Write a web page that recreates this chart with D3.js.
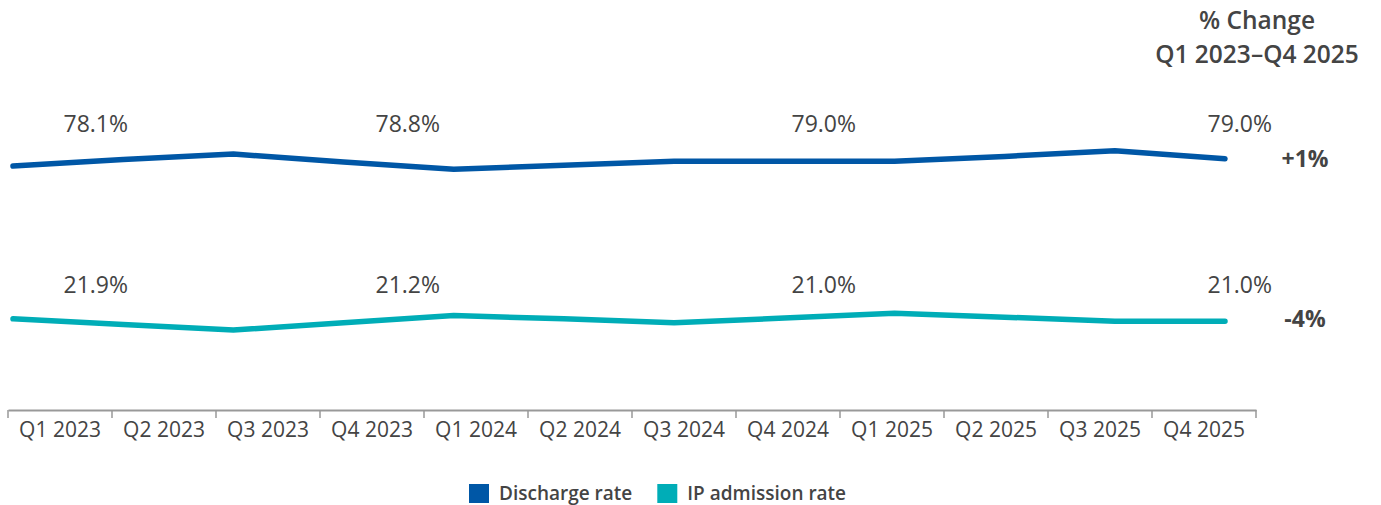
<!DOCTYPE html>
<html>
<head>
<meta charset="utf-8">
<script src="https://cdn.jsdelivr.net/npm/d3@7"></script>
<style>
  body { margin: 0; background: #fff; }
  svg text { font-family: "Open Sans", sans-serif; fill: #444; }
</style>
</head>
<body>
<svg id="chart" width="1381" height="505"></svg>
<script>
var quarters = ["Q1 2023","Q2 2023","Q3 2023","Q4 2023","Q1 2024","Q2 2024","Q3 2024","Q4 2024","Q1 2025","Q2 2025","Q3 2025","Q4 2025"];
var dischargeRate = [78.1, 78.9, 79.6, 78.6, 77.7, 78.2, 78.7, 78.7, 78.7, 79.3, 80.0, 79.0];
var admissionRate = [21.9, 21.2, 20.5, 21.4, 22.3, 21.9, 21.4, 22.0, 22.6, 22.1, 21.6, 21.6];
var labelQuarters = ["Q1 2023","Q4 2023","Q4 2024","Q4 2025"];
var dischargeLabels = ["78.1%","78.8%","79.0%","79.0%"];
var admissionLabels = ["21.9%","21.2%","21.0%","21.0%"];
var changeLabels = ["+1%","-4%"];
var seriesNames = ["Discharge rate","IP admission rate"];
var seriesColors = ["#0057a6","#00adb7"];

var svg = d3.select("#chart");

// axis bands and line positions
var xBand = d3.scaleBand().domain(quarters).range([8, 1256]).padding(0);
var xLine = d3.scalePoint().domain(quarters).range([13, 1225]);

// each series sits in its own strip
var yDis = d3.scaleLinear().domain([76, 81]).range([182.8, 142.8]);
var yAdm = d3.scaleLinear().domain([20, 25]).range([334, 294]);

var series = [
  {name: seriesNames[0], values: dischargeRate, y: yDis, color: seriesColors[0], labels: dischargeLabels, labelY: 132, change: changeLabels[0], changeY: 167},
  {name: seriesNames[1], values: admissionRate, y: yAdm, color: seriesColors[1], labels: admissionLabels, labelY: 293, change: changeLabels[1], changeY: 327}
];

series.forEach(function(s){
  var line = d3.line()
    .x(function(d, i){ return xLine(quarters[i]); })
    .y(function(d){ return s.y(d); });

  svg.append("path")
    .datum(s.values)
    .attr("d", line)
    .attr("fill", "none")
    .attr("stroke", s.color)
    .attr("stroke-width", 5.5)
    .attr("stroke-linecap", "round")
    .attr("stroke-linejoin", "round");

  svg.selectAll(null)
    .data(s.labels)
    .enter().append("text")
    .attr("x", function(d, i){ return xBand(labelQuarters[i]) + xBand.bandwidth() + 16; })
    .attr("y", s.labelY)
    .attr("text-anchor", "end")
    .style("font-size", "23px")
    .text(function(d){ return d; });

  svg.append("text")
    .attr("x", 1305)
    .attr("y", s.changeY)
    .attr("text-anchor", "middle")
    .style("font-size", "23px")
    .style("font-weight", "700")
    .text(s.change);
});

// x axis
var xAxis = d3.axisBottom(xBand).tickSize(0).tickPadding(0);
var gx = svg.append("g").attr("transform", "translate(0,410)").call(xAxis);
gx.select(".domain").attr("stroke", "#999").attr("stroke-width", 2);
gx.selectAll(".tick text")
  .attr("y", 27)
  .attr("dy", 0)
  .style("font-size", "21px")
  .attr("fill", "#444");

var bounds = quarters.map(function(q){ return xBand(q); }).concat([xBand.range()[1]]);
gx.selectAll(".sep")
  .data(bounds)
  .enter().append("line")
  .attr("class", "sep")
  .attr("x1", function(d){ return d; })
  .attr("x2", function(d){ return d; })
  .attr("y1", 0)
  .attr("y2", 8)
  .attr("stroke", "#999")
  .attr("stroke-width", 1.5);

// column header
var header = svg.append("g").attr("transform", "translate(1257,0)");
header.append("text").attr("y", 29).attr("text-anchor", "middle")
  .style("font-size", "24.5px").style("font-weight", "600").text("% Change");
header.append("text").attr("y", 63).attr("text-anchor", "middle")
  .style("font-size", "24.5px").style("font-weight", "600").text("Q1 2023\u2013Q4 2025");

// legend
var legend = svg.append("g").attr("transform", "translate(469,484)");
var lx = 0;
seriesNames.forEach(function(n, i){
  var g = legend.append("g").attr("transform", "translate(" + lx + ",0)");
  g.append("rect").attr("width", 20).attr("height", 19).attr("fill", seriesColors[i]);
  var t = g.append("text").attr("x", 30).attr("y", 16)
    .style("font-size", "19px").style("font-weight", "600").text(n);
  lx += 30 + t.node().getComputedTextLength() + 25;
});
</script>
</body>
</html>
